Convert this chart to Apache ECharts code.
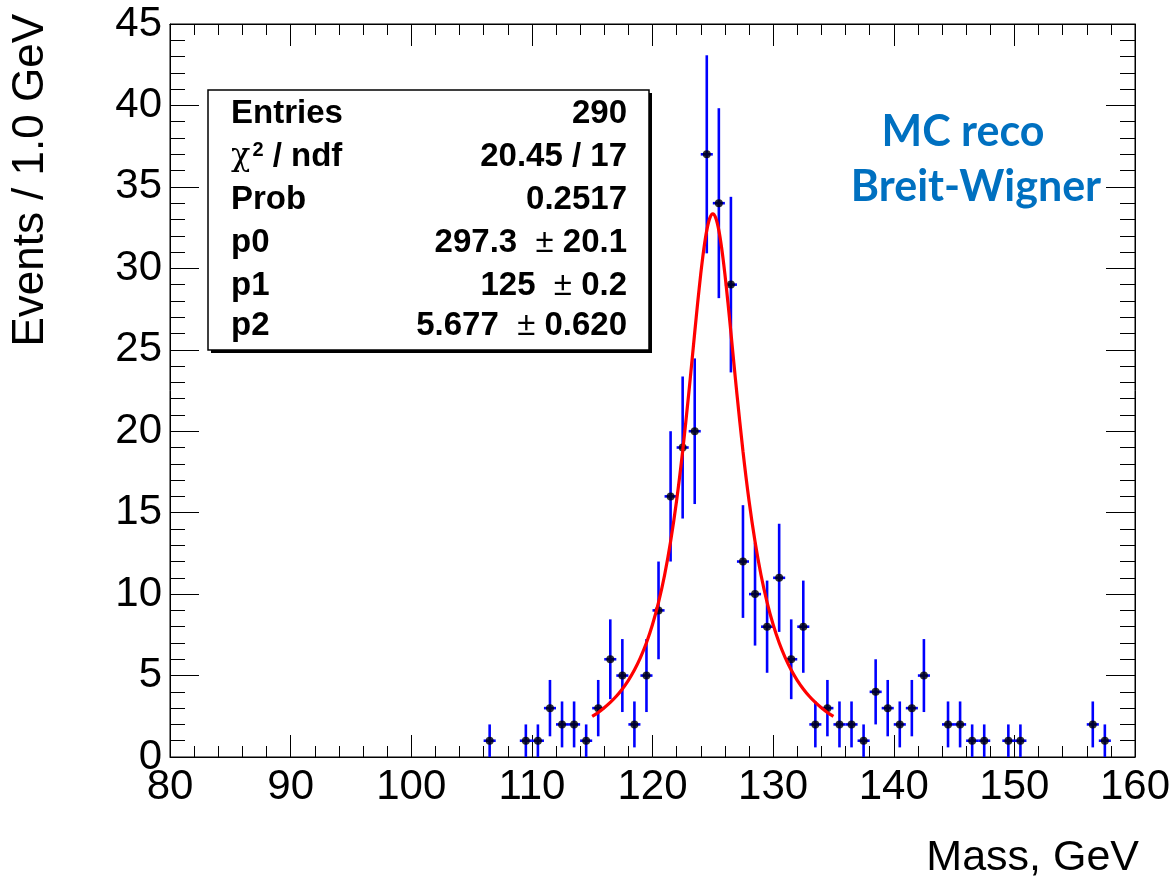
<!DOCTYPE html>
<html>
<head>
<meta charset="utf-8">
<script src="https://cdn.jsdelivr.net/npm/echarts@6/dist/echarts.min.js"></script>
<style>
html,body{margin:0;padding:0;background:#fff;}
#chart{width:1176px;height:879px;}
</style>
</head>
<body>
<div id="chart"></div>
<script>
// ---- data ----
const massBins = [106.5,109.5,110.5,111.5,112.5,113.5,114.5,115.5,116.5,117.5,118.5,119.5,120.5,121.5,122.5,123.5,124.5,125.5,126.5,127.5,128.5,129.5,130.5,131.5,132.5,133.5,134.5,135.5,136.5,137.5,138.5,139.5,140.5,141.5,142.5,144.5,145.5,146.5,147.5,149.5,150.5,156.5,157.5];
const counts = [1,1,1,3,2,2,1,3,6,5,2,5,9,16,19,20,37,34,29,12,10,8,11,6,8,2,3,2,2,1,4,3,2,3,5,2,2,1,1,1,1,2,1];
const countErrors = [1,1,1,1.73,1.41,1.41,1,1.73,2.45,2.24,1.41,2.24,3,4,4.36,4.47,6.08,5.83,5.39,3.46,3.16,2.83,3.32,2.45,2.83,1.41,1.73,1.41,1.41,1,2,1.73,1.41,1.73,2.24,1.41,1.41,1,1,1,1,1.41,1];
const fitMass = [115,115.5,116,116.5,117,117.5,118,118.5,119,119.5,120,120.5,121,121.5,122,122.5,123,123.25,123.5,123.75,124,124.25,124.5,124.75,125,125.25,125.5,125.75,126,126.25,126.5,126.75,127,127.5,128,128.5,129,129.5,130,130.5,131,131.5,132,132.5,133,133.5,134,134.5,135];
const fitValues = [2.49,2.73,3.02,3.35,3.73,4.18,4.71,5.34,6.10,7.01,8.13,9.49,11.16,13.23,15.75,18.77,22.28,24.15,26.06,27.92,29.66,31.16,32.33,33.08,33.34,33.08,32.33,31.16,29.66,27.92,26.06,24.15,22.28,18.77,15.75,13.23,11.16,9.49,8.13,7.01,6.10,5.34,4.71,4.18,3.73,3.35,3.02,2.73,2.49];
const binWidth = 1.0;
const statLabels = ['Entries', 'chi', 'Prob', 'p0', 'p1', 'p2'];
const statValues = ['290', '20.45 / 17', '0.2517', ['297.3', '20.1'], ['125', '0.2'], ['5.677', '0.620']];
const xTitle = 'Mass, GeV';
const yTitle = 'Events / 1.0 GeV';
const noteLines = ['MC reco', 'Breit-Wigner'];

// ---- chart ----
const chart = echarts.init(document.getElementById('chart'), null, {renderer: 'canvas'});
const FONT = 'Liberation Sans, Arial, Helvetica, sans-serif';
const SF = 33;

const axisCommonX = {
  type: 'value', min: 80, max: 160, interval: 10,
  axisLine: {show: true, onZero: false, lineStyle: {color: '#000', width: 1}},
  axisTick: {show: true, inside: true, length: 22, lineStyle: {color: '#000', width: 1}},
  minorTick: {show: true, splitNumber: 5, length: 11, lineStyle: {color: '#000', width: 1}},
  splitLine: {show: false}, minorSplitLine: {show: false}
};
const axisCommonY = {
  type: 'value', min: 0, max: 45, interval: 5,
  axisLine: {show: true, onZero: false, lineStyle: {color: '#000', width: 1}},
  axisTick: {show: true, inside: true, length: 29, lineStyle: {color: '#000', width: 1}},
  minorTick: {show: true, splitNumber: 5, length: 15, lineStyle: {color: '#000', width: 1}},
  splitLine: {show: false}, minorSplitLine: {show: false}
};

const pointData = massBins.map((m, i) => [m, counts[i], countErrors[i]]);
const fitData = fitMass.map((m, i) => [m, fitValues[i]]);

const boldRich = {fontWeight: 'bold', fontFamily: FONT, fontSize: SF, fill: '#000', color: '#000'};
const plainRich = {fontWeight: 'normal', fontFamily: FONT, fontSize: SF, fill: '#000', color: '#000'};

// stats box graphics
const boxX = 208, boxY = 90, boxW = 441, boxH = 260;
const rowMid = [114, 157, 200, 243, 286, 326];
const statGraphics = [];
statGraphics.push({type: 'rect', z: 100, shape: {x: boxX + 3, y: boxY + 3, width: boxW, height: boxH}, style: {fill: '#000'}});
statGraphics.push({type: 'rect', z: 101, shape: {x: boxX, y: boxY, width: boxW, height: boxH}, style: {fill: '#fff', stroke: '#000', lineWidth: 1.5}});
statLabels.forEach((lab, i) => {
  let textEl;
  if (lab === 'chi') {
    textEl = {type: 'text', z: 102, x: 231, y: rowMid[i], style: {
      text: '{c|χ}{s|2}{b| / ndf}',
      verticalAlign: 'middle',
      rich: {
        c: {fontWeight: 'normal', fontFamily: '"DejaVu Serif", "Liberation Serif", serif', fontSize: 32, fill: '#000'},
        s: {fontWeight: 'bold', fontFamily: FONT, fontSize: 20, fill: '#000', verticalAlign: 'top', padding: [0, 0, 0, 2]},
        b: boldRich
      }
    }};
  } else {
    textEl = {type: 'text', z: 102, x: 231, y: rowMid[i], style: {
      text: lab, fontWeight: 'bold', fontFamily: FONT, fontSize: SF, fill: '#000', verticalAlign: 'middle'
    }};
  }
  statGraphics.push(textEl);
  const v = statValues[i];
  let valEl;
  if (Array.isArray(v)) {
    valEl = {type: 'text', z: 102, x: 627, y: rowMid[i], style: {
      text: '{b|' + v[0] + '  }{p|±}{b| ' + v[1] + '}',
      align: 'right', verticalAlign: 'middle',
      rich: {b: boldRich, p: plainRich}
    }};
  } else {
    valEl = {type: 'text', z: 102, x: 627, y: rowMid[i], style: {
      text: v, fontWeight: 'bold', fontFamily: FONT, fontSize: SF, fill: '#000', align: 'right', verticalAlign: 'middle'
    }};
  }
  statGraphics.push(valEl);
});

const otherGraphics = [
  {type: 'text', z: 50, x: 31, y: 14, rotation: Math.PI / 2, style: {
    text: yTitle, fontFamily: FONT, fontSize: 44, fill: '#000', align: 'right', verticalAlign: 'middle'}},
  {type: 'text', z: 50, x: 1139, y: 858, style: {
    text: xTitle, fontFamily: FONT, fontSize: 43, fill: '#000', align: 'right', verticalAlign: 'middle'}},
  {type: 'text', z: 50, x: 963, y: 132, style: {
    text: noteLines[0], fontWeight: 'bold', fontFamily: 'Lato, "Open Sans", sans-serif', fontSize: 43, fill: '#0070C0', align: 'center', verticalAlign: 'middle'}},
  {type: 'text', z: 50, x: 976, y: 187, style: {
    text: noteLines[1], fontWeight: 'bold', fontFamily: 'Lato, "Open Sans", sans-serif', fontSize: 43, fill: '#0070C0', align: 'center', verticalAlign: 'middle'}}
];

const option = {
  backgroundColor: '#fff',
  animation: false,
  grid: {left: 170, right: 41, top: 24, bottom: 122, show: true, borderColor: '#000', borderWidth: 1, backgroundColor: 'transparent', containLabel: false, outerBoundsMode: 'none'},
  xAxis: [
    Object.assign({}, axisCommonX, {position: 'bottom',
      axisLabel: {show: true, fontSize: 42, fontFamily: FONT, color: '#000', margin: 9, showMinLabel: true, showMaxLabel: true}}),
    Object.assign({}, axisCommonX, {position: 'top', axisLabel: {show: false}})
  ],
  yAxis: [
    Object.assign({}, axisCommonY, {position: 'left',
      axisLabel: {show: true, fontSize: 42, fontFamily: FONT, color: '#000', margin: 8, showMinLabel: true, showMaxLabel: true}}),
    Object.assign({}, axisCommonY, {position: 'right', axisLabel: {show: false}})
  ],
  series: [
    {
      type: 'custom', name: 'errors', xAxisIndex: 0, yAxisIndex: 0, z: 2, clip: true,
      data: pointData,
      renderItem: function (params, api) {
        const x = api.value(0), y = api.value(1), e = api.value(2);
        const lo = api.coord([x, Math.max(0, y - e)]);
        const hi = api.coord([x, y + e]);
        const l = api.coord([x - binWidth / 2, y]);
        const r = api.coord([x + binWidth / 2, y]);
        return {type: 'group', children: [
          {type: 'line', shape: {x1: lo[0], y1: lo[1], x2: hi[0], y2: hi[1]}, style: {stroke: '#0000ff', lineWidth: 2.6}},
          {type: 'line', shape: {x1: l[0], y1: l[1], x2: r[0], y2: r[1]}, style: {stroke: '#0000ff', lineWidth: 2.6}}
        ]};
      }
    },
    {
      type: 'scatter', name: 'counts', z: 3, data: pointData.map(d => [d[0], d[1]]),
      symbol: 'circle', symbolSize: 8, itemStyle: {color: '#000'}
    },
    {
      type: 'line', name: 'fit', z: 4, data: fitData, showSymbol: false, smooth: 0.3,
      lineStyle: {color: '#ff0000', width: 3.2}
    }
  ],
  graphic: statGraphics.concat(otherGraphics)
};
chart.setOption(option);
</script>
</body>
</html>
